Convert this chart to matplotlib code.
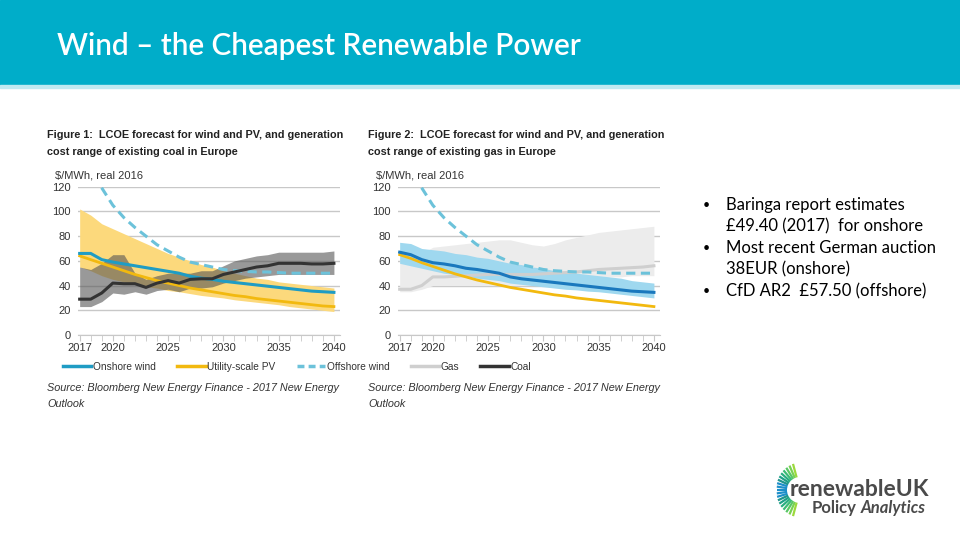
import numpy as np
import matplotlib.pyplot as plt
from matplotlib.lines import Line2D
from matplotlib.patches import Rectangle

# ---------------- data ($/MWh real 2016)
years = np.arange(2017, 2041)

onshore1 = [66, 66, 61, 59, 57.5, 56, 54.5, 53, 51.5, 50, 47.5, 46, 45, 43.5,
            42.5, 41.5, 40.5, 39.5, 38.5, 37.5, 36.5, 35.5, 35, 34.5]
pv = [64, 61, 58, 55, 52, 49, 46.5, 44, 42, 40, 38, 36.5, 35, 33.5,
      32, 31, 29.5, 28.5, 27.5, 26.5, 25.5, 24.5, 23.5, 23]
pv_hi = [102, 97, 90, 86, 82, 78, 74, 70, 66, 63, 60, 57, 55, 52,
         50, 48, 46, 45, 43, 42, 41, 40, 39, 38]
pv_lo = [55, 52, 48, 45, 43, 41, 39, 38, 36, 35, 33.5, 32, 31, 30,
         28.5, 27.5, 26.5, 25.5, 24.5, 23, 22, 21, 20, 19]
offshore = [150, 133, 119, 105, 95, 87, 80, 73, 68, 63, 59, 57, 55, 53,
            52, 51.5, 51, 51, 50.5, 50, 50, 50, 50, 50]
coal = [29, 29, 34, 42, 41.5, 41.5, 38.5, 42, 44, 42, 45, 45.5, 45.5, 49,
        51, 53, 55, 56, 58, 58, 58, 57.5, 57.5, 58]
coal_hi = [55, 53, 58, 65, 65, 50, 45, 48, 50, 50, 50, 52, 52, 56,
           60, 62, 64, 65, 67, 67, 67, 67, 67, 68]
coal_lo = [23, 23, 27, 34, 33, 35, 33, 36, 37, 35, 38, 38, 39, 42,
           44, 46, 47, 48, 49, 49, 49, 49, 49, 49]

onshore2 = [67, 65, 61, 58.5, 57.5, 56, 54, 53, 51.5, 50, 47, 45.5, 44.5, 43.5,
            42.5, 41.5, 40.5, 39.5, 38.5, 37.5, 36.5, 35.5, 35, 34.5]
onshore2_hi = [75, 74, 70, 69, 68, 66, 65, 63, 62, 60, 58, 57, 55, 54,
               52, 51, 50, 49, 48, 47, 46, 44, 43, 42]
onshore2_lo = [58, 56, 54, 52, 50, 49, 48, 46, 45, 44, 42, 41, 40, 39,
               38, 37, 36.5, 35.5, 35, 34, 33, 32, 31, 30]
pv2 = [65, 62, 58.5, 55.5, 52.5, 49.5, 47, 44.5, 42.5, 40.5, 38.5, 37, 35.5, 34,
       32.5, 31.5, 30, 29, 28, 27, 26, 25, 24, 23]
gas = [37, 37, 40, 47, 47, 47.5, 48, 48.5, 49, 49, 49, 49, 49, 49.5,
       50, 50.5, 51, 52, 53, 53.5, 54, 54.5, 55, 56]
gas_hi = [62, 64, 66, 71, 72, 73, 74, 75, 76, 77, 77, 75, 73, 72,
          74, 77, 79, 81, 83, 84, 85, 86, 87, 88]
gas_lo = [35, 35, 37, 40, 40, 40, 40, 40, 40, 40, 40, 40, 40, 41,
          42, 43, 44, 45, 46, 47, 47, 48, 48, 48]

xticks = [2017, 2020, 2025, 2030, 2035, 2040]
yticks = [0, 20, 40, 60, 80, 100, 120]

titles = [["Figure 1:  LCOE forecast for wind and PV, and generation",
           "cost range of existing coal in Europe"],
          ["Figure 2:  LCOE forecast for wind and PV, and generation",
           "cost range of existing gas in Europe"]]
source = ["Source: Bloomberg New Energy Finance - 2017 New Energy", "Outlook"]
bullets = [["Baringa report estimates", "£49.40 (2017)  for onshore"],
           ["Most recent German auction", "38EUR (onshore)"],
           ["CfD AR2  £57.50 (offshore)"]]

c_on = "#1f9cc4"
c_on2 = "#1a78bd"
c_on2_band = "#9fd8ef"
c_pv = "#f2b90f"
c_pv_band = "#fcd97c"
c_off = "#6cc2da"
c_coal = "#333333"
c_gas = "#cfcfcf"
c_gas_band = "#ececec"

plt.rcParams['font.family'] = ['Liberation Sans', 'DejaVu Sans']

fig = plt.figure(figsize=(9.6, 5.4), dpi=100)

# background / slide decorations in pixel coordinates
bg = fig.add_axes([0, 0, 1, 1], zorder=-5)
bg.set_xlim(0, 960)
bg.set_ylim(540, 0)
bg.axis('off')
bg.add_patch(Rectangle((0, 0), 960, 85, color="#00adc9"))
bg.add_patch(Rectangle((0, 85), 960, 3, color="#bfe9f1"))
fig.text(57/960, 1-46/540, "Wind \u2013 the Cheapest Renewable Power", color="white",
         fontsize=21.4, weight="semibold", family="Lato", va="center", ha="left")

# logo rays
for a in np.linspace(105, 255, 19):
    t = np.deg2rad(a)
    k = abs(a - 180) / 75
    col = plt.cm.viridis(0.35 + 0.5 * k) if k > 0.3 else "#1d8fc9"
    r0, r1 = 13, 27 - 4 * (1 - k)
    bg.plot([800 + r0*np.cos(t), 800 + r1*np.cos(t)],
            [490 - r0*np.sin(t), 490 - r1*np.sin(t)], color=col, lw=1.6,
            solid_capstyle="butt")
fig.text(790/960, 1-496/540, "renewableUK", fontsize=16.5, weight="bold",
         color="#4a4a4a", family="Lato", va="baseline")
t1 = fig.text(812/960, 1-500/540, "Policy", fontsize=12, weight="bold",
              color="#4a4a4a", family="Lato", va="top")
fig.canvas.draw()
x_end = t1.get_window_extent().x1
fig.text((x_end + 4)/960, 1-500/540, "Analytics", fontsize=12, weight="bold",
         style="italic", color="#4a4a4a", family="Lato", va="top")

# bullets
y = 205
for b in bullets:
    fig.text(703/960, 1-y/540, "\u2022", fontsize=9, family="Lato", va="center")
    for line in b:
        fig.text(726/960, 1-y/540, line, fontsize=12, family="Lato", va="center")
        y += 21.5


def style(ax):
    ax.set_xlim(2016.85, 2040.55)
    ax.set_ylim(0, 120)
    ax.set_yticks(yticks)
    ax.set_xticks(xticks)
    ax.set_xticks(years, minor=True)
    ax.grid(axis='y', color="#c8c8c8", lw=1)
    ax.set_axisbelow(True)
    for s in ['top', 'right', 'left']:
        ax.spines[s].set_visible(False)
    ax.spines['bottom'].set_color("#c8c8c8")
    ax.tick_params(axis='y', length=0, labelsize=8, colors="#333333", pad=5)
    ax.tick_params(axis='x', which='both', length=4, color="#c8c8c8",
                   labelsize=8, labelcolor="#333333", pad=2)


# ---------------- figure 1
ax1 = fig.add_axes([78/960, 1-335/540, 262/960, 148.3/540])
ax1.fill_between(years, pv_lo, pv_hi, color=c_pv_band, lw=0)
ax1.fill_between(years, coal_lo, coal_hi, color="#555555", alpha=0.6, lw=0)
ax1.plot(years, pv, color=c_pv, lw=2)
ax1.plot(years, onshore1, color=c_on, lw=2.2)
ax1.plot(years, offshore, color=c_off, lw=2.2, ls=(0, (3, 1.8)))
ax1.plot(years, coal, color=c_coal, lw=2.2)
style(ax1)

# ---------------- figure 2
ax2 = fig.add_axes([398/960, 1-335/540, 262/960, 148.3/540])
ax2.fill_between(years, gas_lo, gas_hi, color=c_gas_band, lw=0)
ax2.fill_between(years, onshore2_lo, onshore2_hi, color=c_on2_band, lw=0)
ax2.plot(years, gas, color=c_gas, lw=2.2)
ax2.plot(years, pv2, color=c_pv, lw=2)
ax2.plot(years, onshore2, color=c_on2, lw=2.2)
ax2.plot(years, offshore, color=c_off, lw=2.2, ls=(0, (3, 1.8)))
style(ax2)

for x0, t in zip([47, 368], titles):
    for yy, line in zip([135, 152], t):
        fig.text(x0/960, 1-yy/540, line, fontsize=7.8, weight="bold", va="center",
                 ha="left", color="#222222")
    fig.text((x0+8)/960, 1-176/540, "$/MWh, real 2016", fontsize=8,
             va="center", ha="left", color="#333333")
    for yy, line in zip([388, 404], source):
        fig.text(x0/960, 1-yy/540, line, fontsize=7.85, style="italic",
                 va="center", ha="left", color="#333333")

handles = [Line2D([], [], color=c_on, lw=2.5),
           Line2D([], [], color=c_pv, lw=2.5),
           Line2D([], [], color=c_off, lw=2.5, ls=(0, (2, 1.2))),
           Line2D([], [], color=c_gas, lw=2.5),
           Line2D([], [], color=c_coal, lw=2.5)]
labels = ["Onshore wind", "Utility-scale PV", "Offshore wind", "Gas", "Coal"]
fig.legend(handles, labels, ncol=5, loc="center", bbox_to_anchor=(297/960, 1-367/540),
           frameon=False, fontsize=7.3, handlelength=2.8, handletextpad=0.15,
           columnspacing=2.1, labelcolor="#333333")

fig.savefig("out.png", dpi=100)
